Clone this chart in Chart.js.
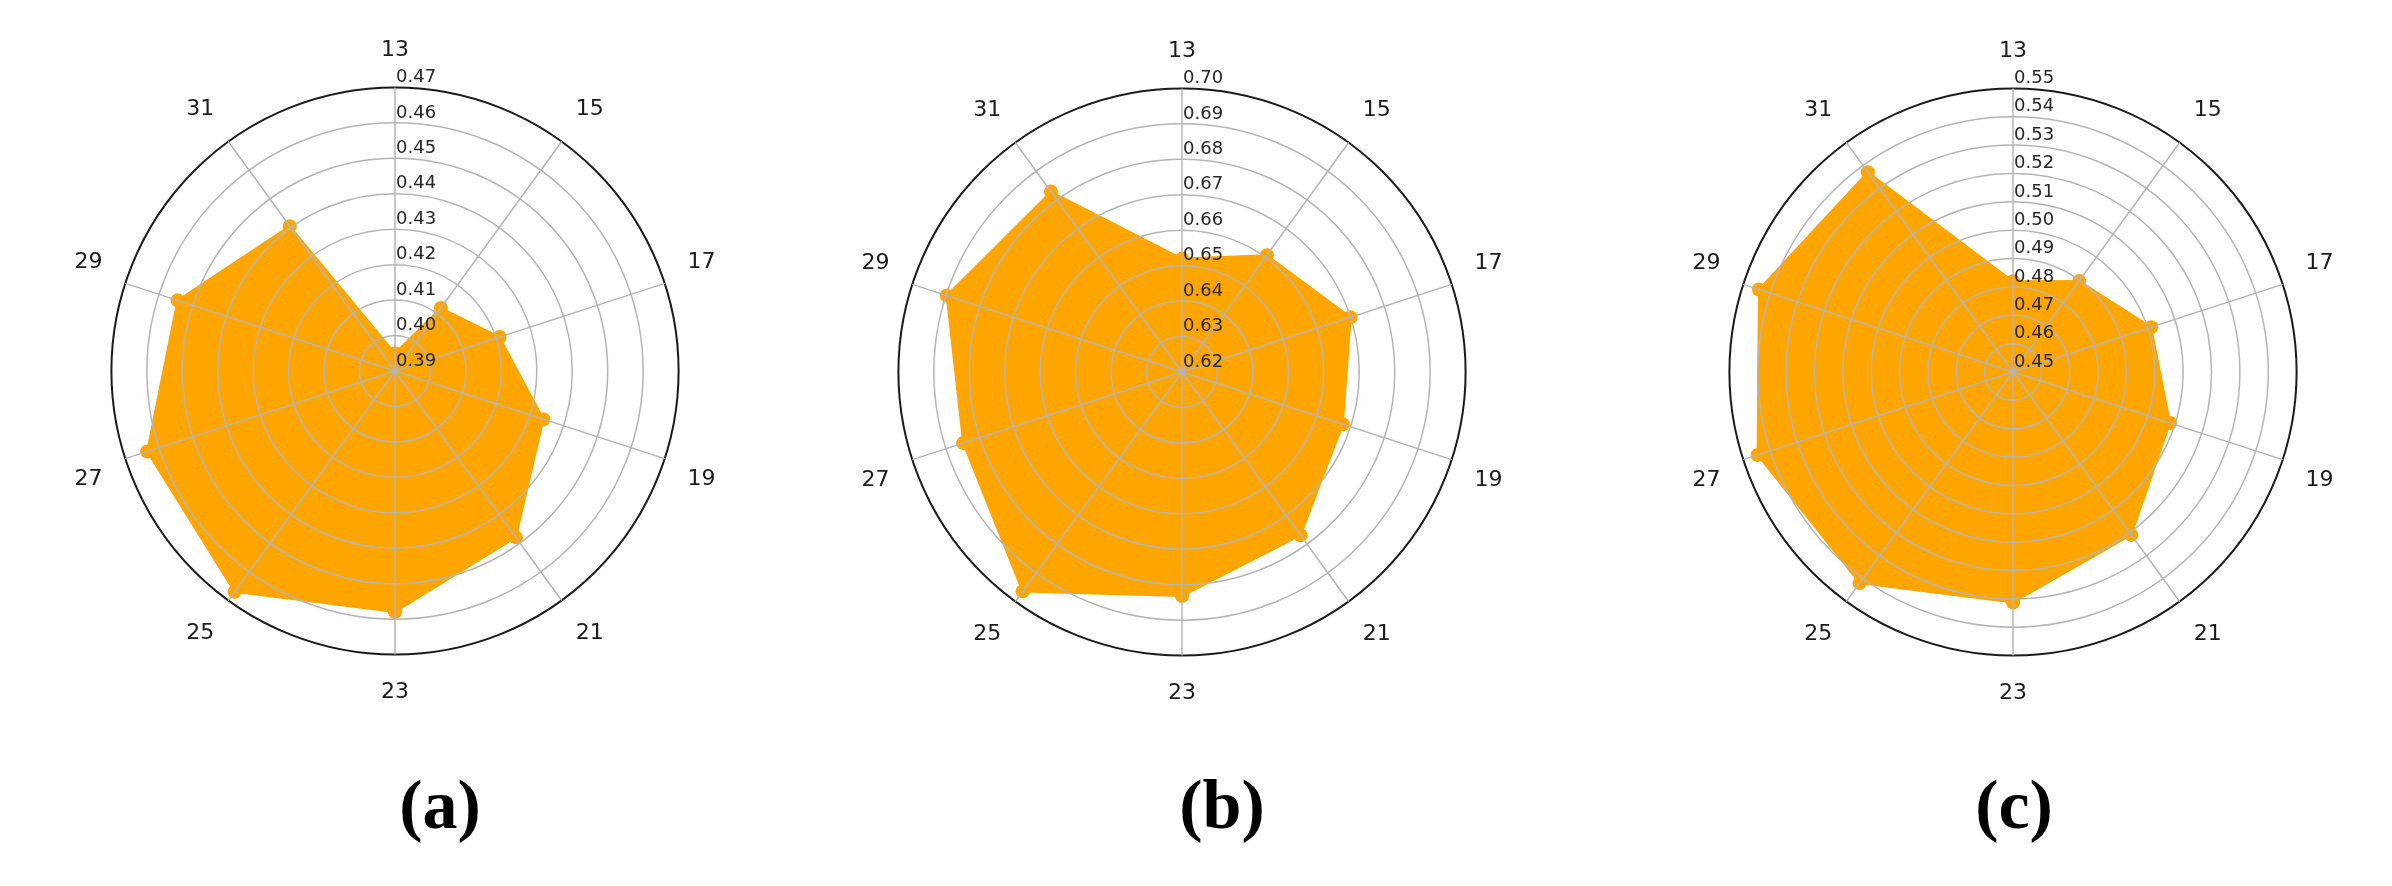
<!DOCTYPE html>
<html>
<head>
<meta charset="utf-8">
<script src="https://cdn.jsdelivr.net/npm/chart.js@4.4.1/dist/chart.umd.min.js"></script>
<style>
  html, body { margin: 0; padding: 0; background: #fff; }
  body { width: 2392px; height: 886px; position: relative; overflow: hidden; }
  canvas { position: absolute; }
  .tag {
    position: absolute; width: 200px; text-align: center;
    font: bold 70px "Liberation Serif", "Times New Roman", serif;
    line-height: 80px; color: #000;
  }
</style>
</head>
<body>
<canvas id="chartA" width="740" height="668" style="left:25px;top:37px;width:740px;height:668px"></canvas>
<canvas id="chartB" width="740" height="668" style="left:812px;top:38px;width:740px;height:668px"></canvas>
<canvas id="chartC" width="740" height="668" style="left:1643px;top:38px;width:740px;height:668px"></canvas>
<div class="tag" style="left:340px;top:765px">(a)</div>
<div class="tag" style="left:1122px;top:765px">(b)</div>
<div class="tag" style="left:1914px;top:765px">(c)</div>
<script>
// angle labels (clockwise from top)
var categories = ['13', '15', '17', '19', '21', '23', '25', '27', '29', '31'];

// values
var valuesA = [0.395, 0.412, 0.421, 0.434, 0.448, 0.458, 0.467, 0.4635, 0.4545, 0.4405];
var valuesB = [0.652, 0.6607, 0.670, 0.6677, 0.6769, 0.6832, 0.6965, 0.6849, 0.6898, 0.6829];
var valuesC = [0.482, 0.4897, 0.5012, 0.5082, 0.521, 0.5313, 0.542, 0.5447, 0.5442, 0.5371];

// radial tick ranges
var rangeA = [0.39, 0.47];
var rangeB = [0.62, 0.70];
var rangeC = [0.45, 0.55];
var tickStep = 0.01;

var orange = '#FFA500';
var gridGrey = '#b4b4b4';

// radial tick labels drawn left-aligned just above each ring, like matplotlib
var rTickLabels = {
    id: 'rTickLabels',
    afterDraw: function(chart) {
        var scale = chart.scales.r;
        var ctx = chart.ctx;
        ctx.save();
        ctx.font = '18px "DejaVu Sans"';
        ctx.fillStyle = '#262626';
        ctx.textAlign = 'left';
        ctx.textBaseline = 'middle';
        scale.ticks.forEach(function(tick) {
            var d = scale.getDistanceFromCenterForValue(tick.value);
            ctx.fillText(tick.value.toFixed(2), scale.xCenter + 1, scale.yCenter - d - 10);
        });
        ctx.restore();
    }
};

function makeRadar(id, values, range) {
    var ctx = document.getElementById(id).getContext('2d');
    return new Chart(ctx, {
        type: 'radar',
        data: {
            labels: categories,
            datasets: [{
                data: values,
                fill: true,
                backgroundColor: orange,
                borderColor: orange,
                borderWidth: 2,
                pointRadius: 7,
                pointBackgroundColor: orange,
                pointBorderWidth: 0
            }]
        },
        options: {
            responsive: false,
            animation: false,
            plugins: {
                legend: { display: false },
                tooltip: { enabled: false }
            },
            scales: {
                r: {
                    min: range[0],
                    max: range[1],
                    ticks: {
                        display: false,
                        stepSize: tickStep,
                        z: 1
                    },
                    grid: {
                        z: 1,   // grid over the orange fill, as in the figure
                        circular: true,
                        color: function(c) {
                            return c.index === c.scale.ticks.length - 1 ? '#1a1a1a' : gridGrey;
                        },
                        lineWidth: function(c) {
                            return c.index === c.scale.ticks.length - 1 ? 2 : 1.5;
                        }
                    },
                    angleLines: {
                        color: gridGrey,
                        lineWidth: 1.5
                    },
                    pointLabels: {
                        padding: 24,
                        color: '#1a1a1a',
                        font: { family: 'DejaVu Sans', size: 22 }
                    }
                }
            }
        },
        plugins: [rTickLabels]
    });
}

makeRadar('chartA', valuesA, rangeA);
makeRadar('chartB', valuesB, rangeB);
makeRadar('chartC', valuesC, rangeC);
</script>
</body>
</html>
